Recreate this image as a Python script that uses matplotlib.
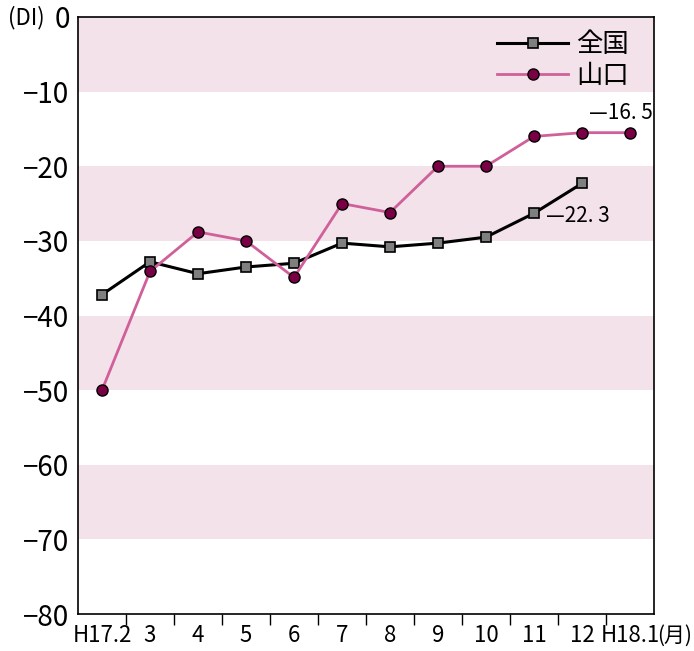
import matplotlib.pyplot as plt
import numpy as np

plt.rcParams['font.family'] = ['Noto Sans CJK JP', 'DejaVu Sans']

months = ['H17.2', '3', '4', '5', '6', '7', '8', '9', '10', '11', '12', 'H18.1']
zenkoku = [-37.2, -32.8, -34.4, -33.5, -33.0, -30.3, -30.8, -30.3, -29.5, -26.3, -22.3, np.nan]
yamaguchi = [-50.0, -34.1, -28.8, -30.0, -34.9, -25.0, -26.2, -20.0, -20.0, -16.0, -15.5, -15.5]
yticks = [0, -10, -20, -30, -40, -50, -60, -70, -80]
ylabels = ['0', '−10', '−20', '−30', '−40', '−50', '−60', '−70', '−80']

fig = plt.figure(figsize=(6.94, 6.51), dpi=100)
ax = fig.add_axes([78/694, 1 - 614/651, 576/694, 597/651])

x = np.arange(len(months))

# shaded bands
for top in [0, -20, -40, -60]:
    ax.axhspan(top - 10, top, color='#f3e2e9', lw=0, zorder=0)

ax.plot(x, zenkoku, color='black', lw=2.2, marker='s', ms=7.5,
        mfc='#7f7f7f', mec='black', mew=1.2, label='全国', zorder=3)
ax.plot(x, yamaguchi, color='#d0609a', lw=2.0, marker='o', ms=8,
        mfc='#7a0045', mec='black', mew=1.0, label='山口', zorder=3)

ax.text(9.25, -26.7, '—22. 3', fontsize=15, va='center', ha='left')
ax.text(11.48, -12.8, '—16. 5', fontsize=15, va='center', ha='right')

ax.set_xlim(-0.5, 11.5)
ax.set_ylim(-80, 0)
ax.set_yticks(yticks)
ax.set_yticklabels(ylabels, fontsize=20)
ax.tick_params(axis='y', length=0, pad=6)

ax.set_xticks(x)
ax.set_xticklabels(months, fontsize=16)
ax.tick_params(axis='x', which='major', length=0, pad=7)
ax.set_xticks(x[:-1] + 0.5, minor=True)
ax.tick_params(axis='x', which='minor', length=8, width=1, direction='out')

for s in ax.spines.values():
    s.set_linewidth(1.2)

fig.text(8/694, 1 - 18/651, '(DI)', fontsize=16, va='center', ha='left')
fig.text(657/694, 1 - 636/651, '(月)', fontsize=15, va='center', ha='left')

leg = ax.legend(loc='upper right', bbox_to_anchor=(0.998, 1.016), frameon=False,
                fontsize=19, handlelength=2.7, labelspacing=0.15, handletextpad=0.3)

fig.savefig('out.png', dpi=100)
